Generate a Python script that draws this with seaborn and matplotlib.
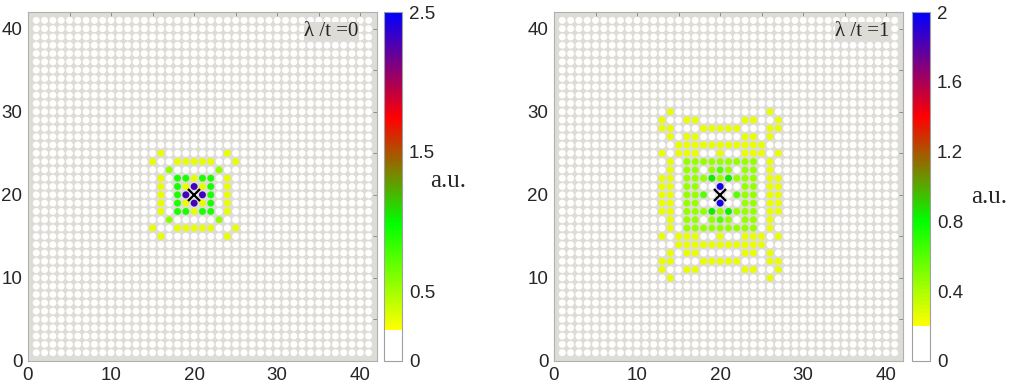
import numpy as np
import pandas as pd
import matplotlib
matplotlib.use('Agg')
import matplotlib.pyplot as plt
import seaborn as sns
from matplotlib.colors import LinearSegmentedColormap, Normalize
from matplotlib.cm import ScalarMappable

sns.set_style('white')
plt.rcParams['font.family'] = ['Liberation Sans', 'DejaVu Sans']

# lattice and impurity site
grid_n = 41
impurity = (20, 20)

# value of each colour code (a.u.)
left_levels = {'.': 0.0, 'y': 0.3, 'l': 0.55, 'g': 0.9, 'b': 2.3, 'x': 0.0}
right_levels = {'.': 0.0, 'y': 0.25, 'l': 0.45, 'g': 0.6, 'G': 0.85, 'b': 1.95, 'x': 0.0}

# lambda/t = 0 : columns i = 15..25, rows j = 25 (top) .. 15
left_i0, left_jtop = 15, 25
left_map = [
    '.y.......y.',
    'y..yyyyy..y',
    '..l.....l..',
    '.y.ggygg.y.',
    '.y.gybyg.y.',
    '.y.gbxbg.y.',
    '.y.gybyg.y.',
    '.y.ggygg.y.',
    '..l.....l..',
    'y..yyyyy..y',
    '.y.......y.',
]

# lambda/t = 1 : columns i = 13..27, rows j = 30 (top) .. 10
right_i0, right_jtop = 13, 30
right_map = [
    '.y...........y.',
    'y..yy.....yy..y',
    'yy...yyyyy...yy',
    '.y.yy.....yy.y.',
    '..yyyyyyyyyyy..',
    'y.yyy..y..yyy.y',
    '.y.lllllllll.y.',
    '.y.ll.lgl.ll.y.',
    'yy.lllGlGlll.yy',
    'yy.ll..b..ll.yy',
    'yy.llg.x.gll.yy',
    'yy.ll..b..ll.yy',
    'yy.lllGlGlll.yy',
    '.y.ll.lgl.ll.y.',
    '.y.lllllllll.y.',
    'y.yyy..y..yyy.y',
    '..yyyyyyyyyyy..',
    '.y.yy.....yy.y.',
    'yy...yyyyy...yy',
    'y..yy.....yy..y',
    '.y...........y.',
]

left_ticks = [0, 0.5, 1.5, 2.5]
right_ticks = [0, 0.4, 0.8, 1.2, 1.6, 2]
left_vmax, right_vmax = 2.5, 2.0
panel_labels = ['λ /t =0', 'λ /t =1']


def site_table(code_map, i0, jtop, levels):
    ii, jj = np.meshgrid(np.arange(1, grid_n + 1), np.arange(1, grid_n + 1))
    vals = np.zeros_like(ii, dtype=float)
    for r, row in enumerate(code_map):
        for c, ch in enumerate(row):
            vals[jtop - r - 1, i0 + c - 1] = levels[ch]
    return pd.DataFrame({'x': ii.ravel(), 'y': jj.ravel(), 'v': vals.ravel()})


def make_cmap(white_frac):
    w = white_frac
    step = (1 - w) / 3
    return LinearSegmentedColormap.from_list('ldos', [
        (0.0, 'white'), (w, 'white'), (w, '#ffff00'),
        (w + step, '#00ff00'), (w + 2 * step, '#ff0000'), (1.0, '#0000ff')])


fig = plt.figure(figsize=(10.24, 3.86), dpi=100)
panels = [
    (left_map, left_i0, left_jtop, left_levels, left_vmax, left_ticks, 0.09,
     [0.0273, 0.0648, 0.3408, 0.904], [0.3750, 0.0648, 0.0176, 0.904], (0.420, 0.53), 0.948),
    (right_map, right_i0, right_jtop, right_levels, right_vmax, right_ticks, 0.10,
     [0.5410, 0.0648, 0.3408, 0.904], [0.8906, 0.0648, 0.0176, 0.904], (0.948, 0.49), 0.962),
]

serif = ['Liberation Serif', 'DejaVu Serif']
for k, (cmap_codes, i0, jtop, levels, vmax, ticks, wf, apos, cpos, aupos, lx) in enumerate(panels):
    ax = fig.add_axes(apos)
    cmap = make_cmap(wf)
    norm = Normalize(0, vmax)
    df = site_table(cmap_codes, i0, jtop, levels)
    sns.scatterplot(data=df, x='x', y='y', hue='v', palette=cmap, hue_norm=norm,
                    s=25, linewidth=0, legend=False, ax=ax, zorder=2)
    ax.plot([impurity[0]], [impurity[1]], marker='x', color='black', ms=8, mew=1.6,
            ls='none', zorder=3)
    ax.set_facecolor('#dedcd6')
    ax.set_xlim(0, 42)
    ax.set_ylim(0, 42)
    tick_pos = np.arange(0, 42, 5)
    tick_txt = [str(t) if t % 10 == 0 else '' for t in tick_pos]
    ax.set_xticks(tick_pos)
    ax.set_xticklabels(tick_txt)
    ax.set_yticks(tick_pos)
    ax.set_yticklabels(tick_txt)
    ax.tick_params(direction='in', length=3, width=0.6, color='#808080',
                   labelsize=13.5, top=True, right=True, pad=4)
    ax.set_xlabel('')
    ax.set_ylabel('')
    for sp in ax.spines.values():
        sp.set_color('#b0b0b0')
        sp.set_linewidth(0.8)
    ax.text(lx, 0.943, panel_labels[k], transform=ax.transAxes, ha='right', va='center',
            fontsize=15, family=serif, zorder=4,
            bbox=dict(facecolor='#dedcd6', edgecolor='none', pad=0.3))

    cax = fig.add_axes(cpos)
    cb = fig.colorbar(ScalarMappable(norm=norm, cmap=cmap), cax=cax, ticks=ticks)
    cb.ax.set_yticklabels([f'{t:g}' for t in ticks])
    cb.ax.tick_params(direction='in', length=3, width=0.5, color='#606060', labelsize=13.5, pad=5)
    cb.outline.set_edgecolor('#a0a0a0')
    cb.outline.set_linewidth(0.8)
    fig.text(aupos[0], aupos[1], 'a.u.', fontsize=18, ha='left', va='center', family=serif)

fig.savefig('out.png', dpi=100)
